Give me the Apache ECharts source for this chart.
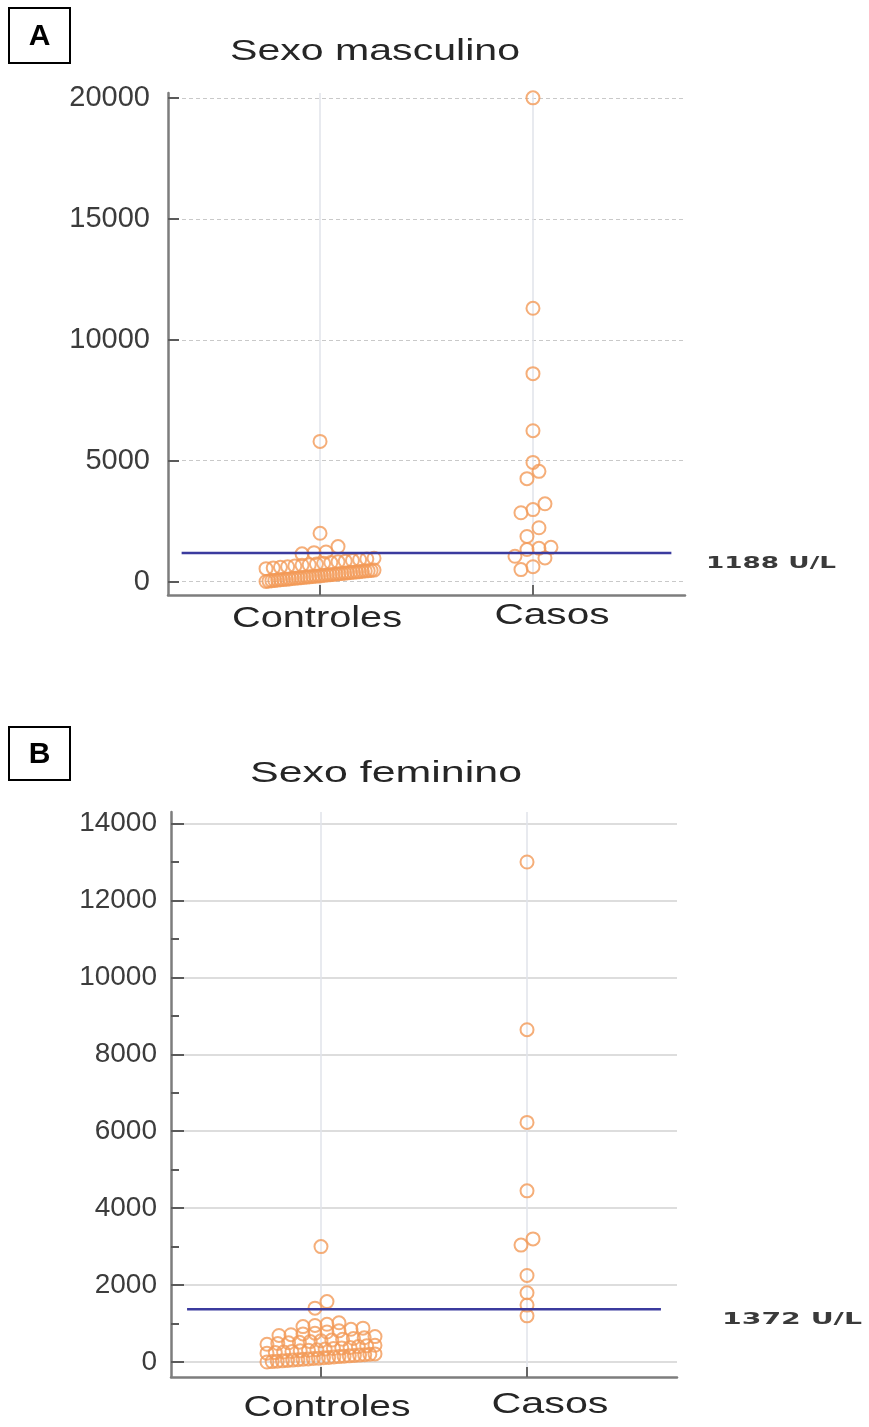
<!DOCTYPE html>
<html>
<head>
<meta charset="utf-8">
<script src="https://cdn.jsdelivr.net/npm/echarts@6/dist/echarts.min.js"></script>
<style>
  html, body { margin: 0; padding: 0; background: #fff; }
  #chart { width: 869px; height: 1427px; }
</style>
</head>
<body>
<div id="chart"></div>
<script>
// Groups on the horizontal axis (positions 1 and 2)
const groups = ['Controles', 'Casos'];

// Panel A: sexo masculino (U/L)
const maleTitle = 'Sexo masculino';
const maleControles = [
  10, 25, 40, 50, 65, 80, 90, 100, 115, 130, 140, 150, 165, 180, 190, 200,
  215, 230, 240, 250, 265, 280, 290, 300, 315, 330, 340, 350, 365, 380,
  390, 400, 415, 430, 440, 450, 465, 480,
  540, 570, 600, 620, 650, 680, 700, 730, 760, 790, 820, 850, 880, 910, 940, 970,
  1150, 1200, 1230, 1450,
  2000, 5800
];
const maleCasos = [
  500, 620, 980, 1050, 1330, 1380, 1420, 1870, 2230, 2850, 2980, 3220,
  4260, 4560, 4930, 6240, 8600, 11300, 20000
];
const maleCutoff = 1188;
const maleTicks = [0, 5000, 10000, 15000, 20000];

// Panel B: sexo feminino (U/L)
const femaleTitle = 'Sexo feminino';
const femaleControles = [
  0, 10, 20, 30, 40, 50, 60, 70, 80, 90, 100, 110, 120, 130, 140, 150, 160,
  170, 180, 190, 200, 210,
  230, 245, 260, 275, 290, 305, 320, 335, 350, 365, 380, 400, 420, 435,
  460, 480, 500, 515, 530, 550, 570, 590, 610, 630, 660,
  690, 710, 730, 750, 780, 810, 850, 880,
  920, 950, 980, 1020,
  1400, 1570, 3000
];
const femaleCasos = [1200, 1480, 1800, 2250, 3040, 3200, 4450, 6230, 8640, 13000];
const femaleCutoff = 1372;
const femaleTicks = [0, 2000, 4000, 6000, 8000, 10000, 12000, 14000];
const femaleMinorTicks = [1000, 3000, 5000, 7000, 9000, 11000, 13000];

// ---- layout and style ----
const ORANGE = '#f29a58';
const CUTOFF_BLUE = '#3b3b9e';
const AXIS_GREY = '#7d7d7d';
const STEP_MAX = 12;      // px between neighbouring dots of one row
const SPREAD_MAX = 108;   // widest a row of dots may get, px

const panels = [
  {
    grid: { left: 168, top: 93, width: 517, height: 502 },
    xRange: [0.286, 2.714], yRange: [-550, 20200],
    ticks: maleTicks, minorTicks: null, tickLen: 11,
    controles: maleControles, casos: maleCasos, cutoff: maleCutoff,
    rowSpan: 500, splitType: [4, 3], splitColor: '#c9c9c9', splitWidth: 1,
    labelMargin: 18, labelSize: 29
  },
  {
    grid: { left: 171, top: 812, width: 506, height: 565 },
    xRange: [0.272, 2.728], yRange: [-390, 14300],
    ticks: femaleTicks, minorTicks: femaleMinorTicks, tickLen: 13,
    controles: femaleControles, casos: femaleCasos, cutoff: femaleCutoff,
    rowSpan: 220, splitType: 'solid', splitColor: '#d2d2d2', splitWidth: 1.5,
    labelMargin: 14, labelSize: 28
  }
];

// Dot plot layout: sorted values are gathered into rows, each row is spread
// sideways around the group position, lowest value on the left.
function dotPlot(values, center, rowSpan, pxPerUnit) {
  const sorted = values.slice().sort((a, b) => a - b);
  const rows = [];
  let row = null;
  sorted.forEach(v => {
    if (!row || v - row[0] >= rowSpan) { row = [v]; rows.push(row); }
    else row.push(v);
  });
  const pts = [];
  rows.forEach(r => {
    const n = r.length;
    const step = n > 1 ? Math.min(STEP_MAX, SPREAD_MAX / (n - 1)) : 0;
    r.forEach((v, i) => pts.push([center + (i - (n - 1) / 2) * step / pxPerUnit, v]));
  });
  return pts;
}

const xAxes = [], yAxes = [], series = [];
panels.forEach((p, gi) => {
  const pxPerUnit = p.grid.width / (p.xRange[1] - p.xRange[0]);
  xAxes.push({
    gridIndex: gi, type: 'value', min: p.xRange[0], max: p.xRange[1],
    axisLine: { show: true, onZero: false, lineStyle: { color: AXIS_GREY, width: 2.5 } },
    axisTick: { show: true, inside: true, length: 10, customValues: [1, 2],
                lineStyle: { color: '#666', width: 2 } },
    axisLabel: { show: false },
    splitLine: { show: true, lineStyle: { color: '#e0e3ea', width: 1.5 } }
  });
  yAxes.push({
    gridIndex: gi, type: 'value', min: p.yRange[0], max: p.yRange[1],
    axisLine: { show: true, onZero: false, lineStyle: { color: AXIS_GREY, width: 2.5 } },
    axisTick: { show: true, inside: true, length: p.tickLen, customValues: p.ticks,
                lineStyle: { color: '#5a5a5a', width: 2 } },
    axisLabel: { customValues: p.ticks, margin: p.labelMargin, fontSize: p.labelSize,
                 formatter: v => String(v),
                 fontFamily: '"Liberation Sans", Arial, sans-serif', color: '#3c3c3c' },
    splitLine: { show: true, lineStyle: { color: p.splitColor, width: p.splitWidth, type: p.splitType } }
  });
  const dotStyle = {
    type: 'scatter', xAxisIndex: gi, yAxisIndex: gi, symbol: 'circle', symbolSize: 13,
    itemStyle: { color: 'rgba(255,255,255,0)', borderColor: ORANGE, borderWidth: 2 },
    silent: true, z: 2
  };
  series.push(Object.assign({ name: groups[0], data: dotPlot(p.controles, 1, p.rowSpan, pxPerUnit) }, dotStyle));
  series.push(Object.assign({ name: groups[1], data: dotPlot(p.casos, 2, p.rowSpan, pxPerUnit) }, dotStyle));
  // cut-off line
  series.push({
    type: 'line', xAxisIndex: gi, yAxisIndex: gi, showSymbol: false, silent: true, z: 3,
    data: [[0.35, p.cutoff], [2.65, p.cutoff]],
    lineStyle: { color: CUTOFF_BLUE, width: 2.5 }
  });
});

// second vertical axis of panel B: short ticks at the odd thousands
yAxes.push({
  gridIndex: 1, type: 'value', min: panels[1].yRange[0], max: panels[1].yRange[1], position: 'left',
  axisLine: { show: false }, axisLabel: { show: false }, splitLine: { show: false },
  axisTick: { show: true, inside: true, length: 8, customValues: femaleMinorTicks,
              lineStyle: { color: '#5a5a5a', width: 2 } }
});

const chart = echarts.init(document.getElementById('chart'), null, { renderer: 'canvas' });
chart.setOption({
  backgroundColor: '#ffffff',
  animation: false,
  grid: panels.map(p => p.grid),
  xAxis: xAxes,
  yAxis: yAxes,
  series: series
});

// stretched text, as the titles and labels of this figure are wide
const measureCtx = document.createElement('canvas').getContext('2d');
function wideText(text, cx, cy, font, width, fill) {
  measureCtx.font = font;
  const s = width / measureCtx.measureText(text).width;
  return {
    type: 'text', x: cx, y: cy, scaleX: s, z: 10, silent: true,
    style: { text: text, font: font, fill: fill, align: 'center', verticalAlign: 'middle' }
  };
}
function panelBox(letter, x, y, w, h) {
  return [
    { type: 'rect', shape: { x: x, y: y, width: w, height: h }, z: 10, silent: true,
      style: { fill: '#fff', stroke: '#000', lineWidth: 2 } },
    { type: 'text', x: x + w / 2, y: y + h / 2 + 1, z: 11, silent: true,
      style: { text: letter, font: 'bold 30px "Liberation Sans", Arial, sans-serif', fill: '#000',
               align: 'center', verticalAlign: 'middle' } }
  ];
}

const TITLE_FONT = '29px "Liberation Sans", Arial, sans-serif';
const GROUP_FONT = '30px "Liberation Sans", Arial, sans-serif';
const CUT_FONT = 'bold 16px "DejaVu Sans", Verdana, sans-serif';
const yCutA = chart.convertToPixel({ gridIndex: 0 }, [2.65, maleCutoff])[1];
const yCutB = chart.convertToPixel({ gridIndex: 1 }, [2.65, femaleCutoff])[1];

chart.setOption({
  graphic: [].concat(
    panelBox('A', 9, 8, 61, 55),
    panelBox('B', 9, 727, 61, 53),
    [
      wideText(maleTitle, 375, 52, TITLE_FONT, 290, '#262626'),
      wideText(femaleTitle, 386, 774, TITLE_FONT, 272, '#262626'),
      wideText(groups[0], 317, 619, GROUP_FONT, 170, '#262626'),
      wideText(groups[1], 552, 616, GROUP_FONT, 115, '#262626'),
      wideText(groups[0], 327, 1408, GROUP_FONT, 167, '#262626'),
      wideText(groups[1], 550, 1405, GROUP_FONT, 117, '#262626'),
      wideText(maleCutoff + ' U/L', 771, yCutA + 11, CUT_FONT, 130, '#3a3a3a'),
      wideText(femaleCutoff + ' U/L', 792, yCutB + 11, CUT_FONT, 140, '#3a3a3a')
    ]
  )
});
</script>
</body>
</html>
